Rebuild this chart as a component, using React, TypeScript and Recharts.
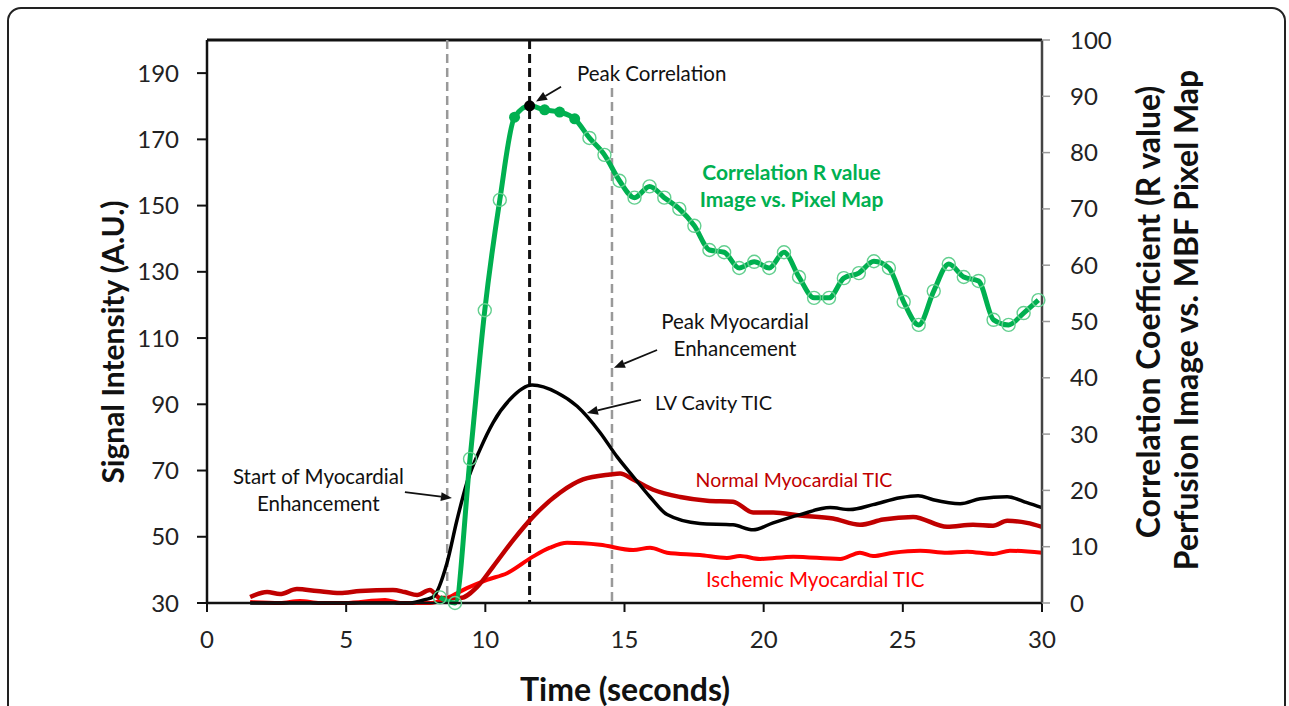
import { LineChart, Line, XAxis, YAxis, ReferenceLine, ReferenceDot } from "recharts";

const FONT = "Lato, 'Open Sans', sans-serif";

const xTicks = [0, 5, 10, 15, 20, 25, 30];
const leftTicks = [30, 50, 70, 90, 110, 130, 150, 170, 190];
const rightTicks = [0, 10, 20, 30, 40, 50, 60, 70, 80, 90, 100];

// LV cavity TIC (black)
const lvTime = [1.55, 4.4, 7.3, 7.83, 8.12, 8.62, 8.98, 9.34, 9.81, 10.28, 10.89, 11.68, 12.58, 13.3, 14.12, 14.73, 15.31, 15.92, 16.53, 17.71, 18.9, 19.62, 20.34, 21.31, 22.39, 23.1, 23.93, 24.9, 25.55, 26.09, 27.06, 27.78, 28.75, 29.46, 30];
const lvSignal = [30, 30, 30, 31, 31.8, 42, 55, 66.4, 76.4, 84.5, 91.5, 95.8, 93.5, 89.4, 81.5, 74.2, 68.2, 62, 56.7, 54, 53.6, 52.1, 54.2, 56.7, 58.8, 58.2, 59.7, 61.8, 62.4, 61.2, 60, 61.5, 62.1, 60.3, 58.8];

// Normal myocardial TIC (dark red)
const normalTime = [1.55, 2.16, 2.62, 3.23, 3.95, 4.78, 5.5, 6.68, 7.1, 7.55, 8.01, 8.37, 9.09, 9.7, 10.28, 11.0, 11.71, 12.68, 13.51, 14.48, 14.84, 15.31, 16.03, 17.0, 17.97, 18.9, 19.62, 20.34, 21.31, 22.49, 23.46, 24.29, 25.37, 26.59, 27.52, 28.24, 28.75, 29.46, 30];
const normalSignal = [31.8, 33.3, 32.7, 34.2, 33.6, 33, 33.6, 33.9, 33.3, 32.4, 33.9, 31.5, 31.5, 34.8, 41, 49, 56, 63.3, 67.3, 68.8, 69.1, 67.3, 64.2, 62, 60.9, 60.6, 57.3, 57.3, 56.4, 55.5, 53.6, 55.2, 56, 53, 53.6, 53.3, 54.8, 54.2, 53];

// Ischemic myocardial TIC (red)
const ischemicTime = [1.55, 2.62, 3.34, 4.06, 4.96, 6.4, 6.94, 8.01, 8.62, 9.34, 10.06, 10.78, 11.71, 12.32, 12.94, 14.12, 15.31, 15.92, 16.53, 17.71, 18.68, 19.15, 19.87, 21.06, 22.75, 23.46, 23.93, 24.65, 25.62, 26.59, 27.31, 28.24, 28.85, 30];
const ischemicSignal = [30.3, 30, 30.6, 30, 30, 30.9, 30, 30, 31.5, 34.5, 37, 39, 44, 46.7, 48.2, 47.6, 46, 46.7, 45.2, 44.5, 43.6, 44.2, 43.3, 44, 43.3, 45.2, 44.2, 45.2, 45.8, 45.2, 45.5, 44.8, 45.8, 45.2];

// Correlation R value, perfusion image vs. MBF pixel map (green, right axis)
const corrTime = [8.37, 8.91, 9.45, 9.98, 10.52, 11.05, 11.59, 12.13, 12.67, 13.21, 13.74, 14.28, 14.82, 15.36, 15.9, 16.43, 16.97, 17.51, 18.05, 18.58, 19.12, 19.66, 20.2, 20.73, 21.27, 21.81, 22.35, 22.88, 23.42, 23.96, 24.5, 25.03, 25.57, 26.11, 26.65, 27.19, 27.72, 28.26, 28.8, 29.34, 29.87];
const corrR = [1, 0, 25.6, 52, 71.6, 86.3, 88.3, 87.6, 87.2, 86, 82.6, 79.6, 75, 72, 74, 72, 70, 67, 62.7, 62.3, 59.5, 60.6, 59.5, 62.3, 57.9, 54.2, 54.2, 57.7, 58.6, 60.7, 59.5, 53.5, 49.4, 55.4, 60.2, 57.9, 57.2, 50.3, 49.4, 51.5, 53.8];
const filledIdx = [5, 7, 8, 9];
const peakIdx = 6;

// event markers (seconds)
const startEnhancement = 8.63;
const peakCorrelation = 11.59;
const peakEnhancement = 14.55;

const toPoints = (ts: number[], vs: number[]) => ts.map((t, i) => ({ t, v: vs[i] }));

const GREEN = "#00b050";
const DARKRED = "#c00000";
const RED = "#ff0000";

function corrDot(props: any) {
  const { cx, cy, index } = props;
  if (index === peakIdx) return <circle key={index} cx={cx} cy={cy} r={5.5} fill="#000" />;
  if (filledIdx.includes(index)) return <circle key={index} cx={cx} cy={cy} r={5.5} fill={GREEN} />;
  return <circle key={index} cx={cx} cy={cy} r={6.5} fill="none" stroke="#63cf8f" strokeWidth={1.4} />;
}

function arrow(props: any) {
  const { x1, y1, x2, y2 } = props;
  const a = Math.atan2(y2 - y1, x2 - x1);
  const L = 11;
  const W = 4.5;
  const bx = x2 - L * Math.cos(a);
  const by = y2 - L * Math.sin(a);
  const pts = `${x2},${y2} ${bx - W * Math.sin(a)},${by + W * Math.cos(a)} ${bx + W * Math.sin(a)},${by - W * Math.cos(a)}`;
  return (
    <g>
      <line x1={x1} y1={y1} x2={bx} y2={by} stroke="#111" strokeWidth={1.8} />
      <polygon points={pts} fill="#111" />
    </g>
  );
}

const label = (lines: string[], color: string, size: number, anchor: string, weight = 400) => (p: any) => (
  <text x={p.cx} y={p.cy} fill={color} fontSize={size} fontFamily={FONT} fontWeight={weight} textAnchor={anchor}>
    {lines.map((s, i) => (
      <tspan key={i} x={p.cx} y={p.cy + i * 27} dominantBaseline="central">
        {s}
      </tspan>
    ))}
  </text>
);

const notes = [
  { t: 13.29, v: 190.1, lines: ["Peak Correlation"], color: "#111", size: 20.5, anchor: "start", weight: 400 },
  { t: 4.0, v: 68.4, lines: ["Start of Myocardial", "Enhancement"], color: "#111", size: 20.5, anchor: "middle", weight: 400 },
  { t: 18.97, v: 115.2, lines: ["Peak Myocardial", "Enhancement"], color: "#111", size: 20.5, anchor: "middle", weight: 400 },
  { t: 16.1, v: 90.7, lines: ["LV Cavity TIC"], color: "#111", size: 20, anchor: "start", weight: 400 },
  { t: 21.0, v: 160.2, lines: ["Correlation R value", "Image vs. Pixel Map"], color: GREEN, size: 21, anchor: "middle", weight: 700 },
  { t: 21.09, v: 67.2, lines: ["Normal Myocardial TIC"], color: DARKRED, size: 19.5, anchor: "middle", weight: 400 },
  { t: 21.85, v: 37.3, lines: ["Ischemic Myocardial TIC"], color: RED, size: 20.5, anchor: "middle", weight: 400 },
];

const arrows = [
  [12.72, 185.9, 11.82, 181.4],
  [7.11, 63.5, 8.8, 61.7],
  [16.17, 106.4, 14.62, 101],
  [15.59, 91.3, 13.65, 87.4],
];

export default function App() {
  return (
    <div style={{ position: "absolute", left: 0, top: 0, width: 1289, height: 706, overflow: "hidden", background: "#fff" }}>
      <div
        style={{
          position: "absolute",
          left: 7,
          top: 7,
          width: 1275,
          height: 760,
          border: "2px solid #222",
          borderRadius: 14,
        }}
      />
      <LineChart
        width={1289}
        height={706}
        margin={{ top: 40, right: 187, bottom: 63, left: 147 }}
        style={{ position: "absolute", left: 0, top: 0 }}
      >
        <XAxis
          type="number"
          dataKey="t"
          domain={[0, 30]}
          ticks={xTicks}
          height={40}
          tickSize={9}
          tickMargin={19}
          axisLine={{ stroke: "#111", strokeWidth: 2.5 }}
          tickLine={{ stroke: "#111", strokeWidth: 2 }}
          tick={{ fill: "#222", fontSize: 24, fontFamily: FONT }}
          allowDuplicatedCategory={false}
        />
        <YAxis
          yAxisId="left"
          orientation="left"
          domain={[30, 200]}
          ticks={leftTicks}
          width={60}
          tickSize={10}
          tickMargin={18}
          axisLine={{ stroke: "#111", strokeWidth: 2.5 }}
          tickLine={{ stroke: "#111", strokeWidth: 2 }}
          tick={{ fill: "#222", fontSize: 24, fontFamily: FONT }}
        />
        <YAxis
          yAxisId="right"
          orientation="right"
          domain={[0, 100]}
          ticks={rightTicks}
          width={60}
          tickSize={8}
          tickMargin={20}
          axisLine={{ stroke: "#444", strokeWidth: 2.5 }}
          tickLine={{ stroke: "#999", strokeWidth: 1.5 }}
          tick={{ fill: "#222", fontSize: 24, fontFamily: FONT }}
        />
        <ReferenceLine yAxisId="left" y={200} stroke="#111" strokeWidth={3} />
        <ReferenceLine
          yAxisId="left"
          segment={[{ x: startEnhancement, y: 200 }, { x: startEnhancement, y: 30 }]}
          stroke="#999"
          strokeWidth={2.5}
          strokeDasharray="9 5"
        />
        <ReferenceLine
          yAxisId="left"
          segment={[{ x: peakEnhancement, y: 185.5 }, { x: peakEnhancement, y: 30 }]}
          stroke="#999"
          strokeWidth={2.5}
          strokeDasharray="9 5"
        />
        <ReferenceLine
          yAxisId="left"
          segment={[{ x: peakCorrelation, y: 200 }, { x: peakCorrelation, y: 30 }]}
          stroke="#111"
          strokeWidth={3}
          strokeDasharray="9 5"
        />
        <Line
          yAxisId="left"
          data={toPoints(ischemicTime, ischemicSignal)}
          dataKey="v"
          type="monotone"
          stroke={RED}
          strokeWidth={4}
          dot={false}
          isAnimationActive={false}
        />
        <Line
          yAxisId="left"
          data={toPoints(normalTime, normalSignal)}
          dataKey="v"
          type="monotone"
          stroke={DARKRED}
          strokeWidth={4.5}
          dot={false}
          isAnimationActive={false}
        />
        <Line
          yAxisId="left"
          data={toPoints(lvTime, lvSignal)}
          dataKey="v"
          type="monotone"
          stroke="#000"
          strokeWidth={3.5}
          dot={false}
          isAnimationActive={false}
        />
        <Line
          yAxisId="right"
          data={toPoints(corrTime, corrR)}
          dataKey="v"
          type="monotone"
          stroke={GREEN}
          strokeWidth={5}
          dot={corrDot}
          isAnimationActive={false}
        />
        {arrows.map((a, i) => (
          <ReferenceLine
            key={"a" + i}
            yAxisId="left"
            segment={[{ x: a[0], y: a[1] }, { x: a[2], y: a[3] }]}
            shape={arrow}
          />
        ))}
        {notes.map((n, i) => (
          <ReferenceDot
            key={"n" + i}
            yAxisId="left"
            x={n.t}
            y={n.v}
            r={0}
            shape={label(n.lines, n.color, n.size, n.anchor, n.weight)}
          />
        ))}
      </LineChart>
      <svg width={1289} height={706} style={{ position: "absolute", left: 0, top: 0, pointerEvents: "none" }}>
        <text x={625} y={688} textAnchor="middle" dominantBaseline="central" fontFamily={FONT} fontWeight={700} fontSize={32} fill="#111">
          Time (seconds)
        </text>
        <text
          transform="translate(112,342) rotate(-90)"
          textAnchor="middle"
          dominantBaseline="central"
          fontFamily={FONT}
          fontWeight={700}
          fontSize={30}
          fill="#111"
        >
          Signal Intensity (A.U.)
        </text>
        <text
          transform="translate(1147,312) rotate(-90)"
          textAnchor="middle"
          dominantBaseline="central"
          fontFamily={FONT}
          fontWeight={700}
          fontSize={32}
          fill="#111"
        >
          Correlation Coefficient (R value)
        </text>
        <text
          transform="translate(1185,320) rotate(-90)"
          textAnchor="middle"
          dominantBaseline="central"
          fontFamily={FONT}
          fontWeight={700}
          fontSize={32}
          fill="#111"
        >
          Perfusion Image vs. MBF Pixel Map
        </text>
      </svg>
    </div>
  );
}
